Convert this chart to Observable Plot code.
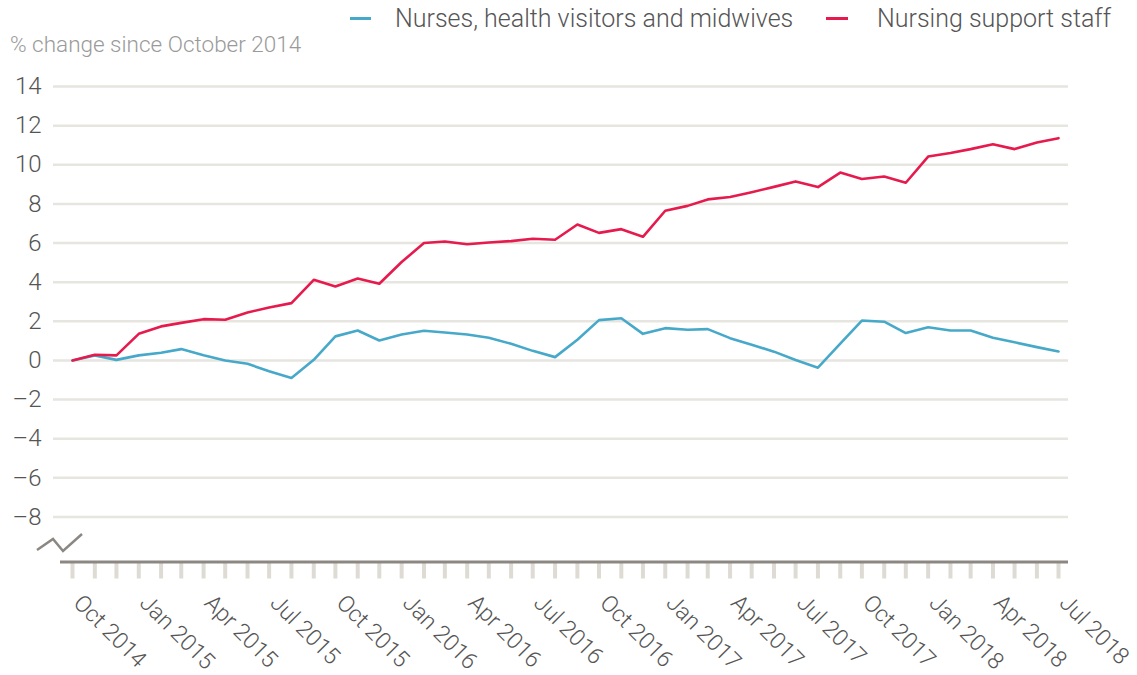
<!DOCTYPE html>
<html>
<head>
<meta charset="utf-8">
<script src="https://cdn.jsdelivr.net/npm/d3@7"></script>
<script src="https://cdn.jsdelivr.net/npm/@observablehq/plot@0.6"></script>
<style>
  html, body { margin: 0; padding: 0; background: #fff; }
  #wrap { position: relative; width: 1137px; height: 675px; font-family: Roboto, "Liberation Sans", sans-serif; font-weight: 300; }
  #ytitle { position: absolute; left: 10px; top: 31px; font-size: 22.5px; color: #9a9a9a; white-space: nowrap; }
  .leg { position: absolute; top: 4px; font-size: 25px; color: #555; white-space: nowrap; display: flex; align-items: center; }
  .sw { display: inline-block; width: 21px; height: 3px; margin-right: 24px; }
  #brk { position: absolute; left: 0; top: 0; pointer-events: none; }
</style>
</head>
<body>
<div id="wrap">
  <div id="chart"></div>
  <div id="ytitle">% change since October 2014</div>
  <div class="leg" style="left:350px"><span class="sw" style="background:#47a9c9"></span>Nurses, health visitors and midwives</div>
  <div class="leg" style="left:826px"><span class="sw" style="background:#e61a4d; width:22px; margin-right:29px"></span>Nursing support staff</div>
  <svg id="brk" width="1137" height="675"><polyline points="37,550 53,539 63,551 82,534" fill="none" stroke="#8c8782" stroke-width="2.5"/></svg>
</div>
<script>
const months = ["2014-10","2014-11","2014-12","2015-01","2015-02","2015-03","2015-04","2015-05","2015-06","2015-07","2015-08","2015-09",
  "2015-10","2015-11","2015-12","2016-01","2016-02","2016-03","2016-04","2016-05","2016-06","2016-07","2016-08","2016-09",
  "2016-10","2016-11","2016-12","2017-01","2017-02","2017-03","2017-04","2017-05","2017-06","2017-07","2017-08","2017-09",
  "2017-10","2017-11","2017-12","2018-01","2018-02","2018-03","2018-04","2018-05","2018-06","2018-07"];
const nurses = [0, 0.26, 0.03, 0.26, 0.39, 0.58, 0.27, 0.0, -0.17, -0.55, -0.9, 0.03,
  1.23, 1.53, 1.02, 1.33, 1.52, 1.43, 1.33, 1.16, 0.85, 0.49, 0.17, 1.06,
  2.06, 2.16, 1.36, 1.65, 1.57, 1.6, 1.14, 0.8, 0.45, 0.02, -0.37, 0.86,
  2.04, 1.98, 1.4, 1.7, 1.53, 1.53, 1.16, 0.93, 0.68, 0.46];
const support = [0, 0.29, 0.26, 1.36, 1.74, 1.92, 2.11, 2.08, 2.45, 2.71, 2.93, 4.12,
  3.78, 4.19, 3.92, 5.03, 6.0, 6.08, 5.94, 6.03, 6.1, 6.22, 6.17, 6.95,
  6.52, 6.71, 6.32, 7.65, 7.9, 8.23, 8.35, 8.6, 8.87, 9.15, 8.86, 9.6,
  9.27, 9.4, 9.08, 10.42, 10.6, 10.8, 11.05, 10.8, 11.14, 11.36];
const xTickLabels = ["Oct 2014","Jan 2015","Apr 2015","Jul 2015","Oct 2015","Jan 2016","Apr 2016","Jul 2016",
  "Oct 2016","Jan 2017","Apr 2017","Jul 2017","Oct 2017","Jan 2018","Apr 2018","Jul 2018"];
const yTicks = [-8, -6, -4, -2, 0, 2, 4, 6, 8, 10, 12, 14];
const yMin = -10.3, yMax = 14;

const parseMonth = d3.utcParse("%Y-%m");
const parseLabel = d3.utcParse("%b %Y");
const dates = months.map(parseMonth);
const nurseData = dates.map((d, i) => ({date: d, value: nurses[i]}));
const supportData = dates.map((d, i) => ({date: d, value: support[i]}));
const labelData = xTickLabels.map(l => ({date: parseLabel(l), label: l}));

const chart = Plot.plot({
  width: 1137,
  height: 675,
  marginLeft: 53,
  marginRight: 69,
  marginTop: 86,
  marginBottom: 113.5,
  style: {fontFamily: "Roboto, 'Liberation Sans', sans-serif", fontWeight: 300, color: "#555", background: "white", overflow: "visible"},
  x: {type: "utc", domain: [dates[0], dates[dates.length - 1]], insetLeft: 19, insetRight: 10, axis: null},
  y: {domain: [yMin, yMax], axis: null},
  marks: [
    Plot.gridY(yTicks, {stroke: "#e6e5df", strokeOpacity: 1, strokeWidth: 2.5}),
    Plot.axisX(dates, {tickSize: 17, tickFormat: () => "", stroke: "#dddbd3", strokeWidth: 4, strokeOpacity: 1, label: null}),
    Plot.ruleY([yMin], {stroke: "#8c8782", strokeWidth: 3, insetLeft: 7}),
    Plot.axisY(yTicks, {tickSize: 0, tickPadding: 12, fontSize: 24, fill: "#555", label: null,
      tickFormat: d => d < 0 ? "\u2013" + Math.abs(d) : String(d)}),
    Plot.text(labelData, {x: "date", y: () => yMin, text: "label", rotate: 45, textAnchor: "start",
      lineAnchor: "middle", dx: 5, dy: 37, fontSize: 23, fill: "#555"}),
    Plot.line(nurseData, {x: "date", y: "value", stroke: "#47a9c9", strokeWidth: 2.6, strokeLinejoin: "round"}),
    Plot.line(supportData, {x: "date", y: "value", stroke: "#e61a4d", strokeWidth: 2.6, strokeLinejoin: "round"})
  ]
});
document.getElementById("chart").appendChild(chart);
</script>
</body>
</html>
